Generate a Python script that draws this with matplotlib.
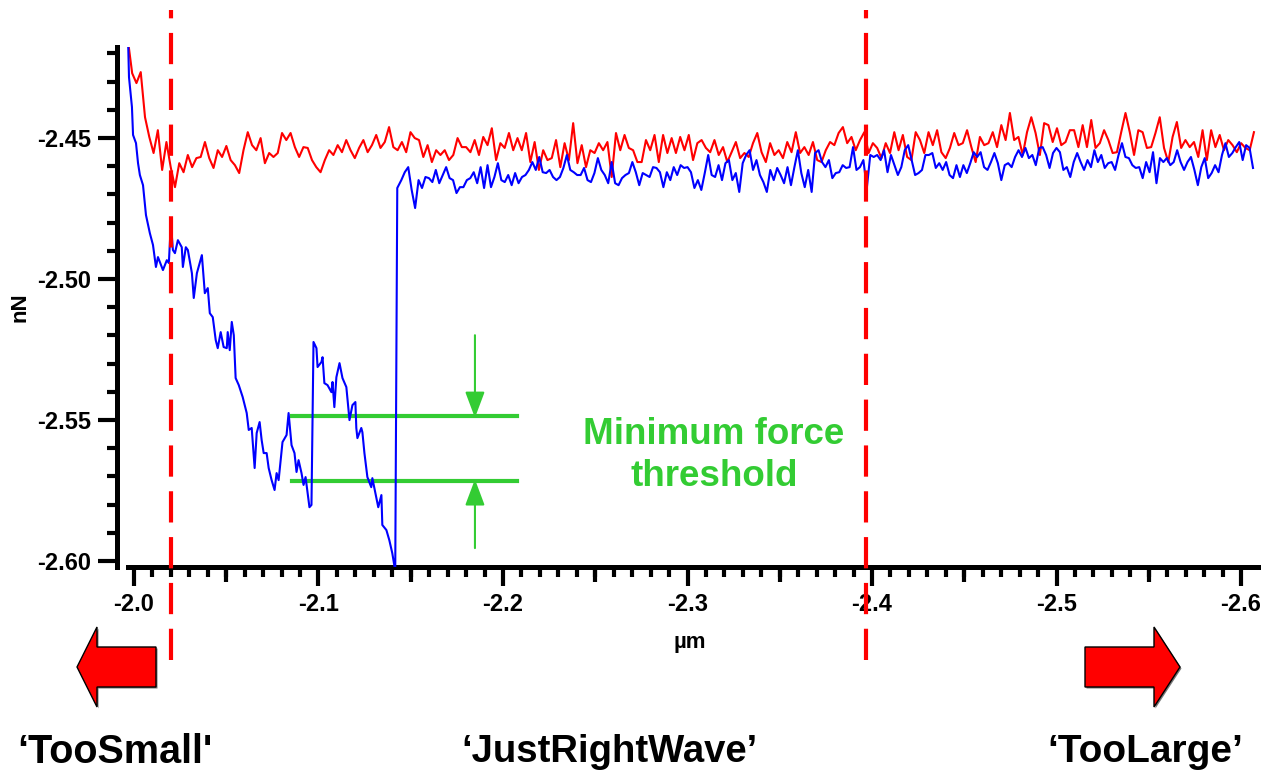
import numpy as np
import matplotlib.pyplot as plt
from matplotlib.patches import Polygon
from matplotlib.ticker import MultipleLocator, FormatStrFormatter

plt.rcParams['font.family'] = ['Liberation Sans', 'DejaVu Sans']

# retract curve (blue): steep part, sampled unevenly (um, nN)
blue_drop_x = [-1.9968, -1.9973, -1.9989, -1.9995, -2.0011, -2.0022, -2.0032, -2.0049, -2.0065, -2.0086,
               -2.0103, -2.0119, -2.0130, -2.0157, -2.0178, -2.0189, -2.0200, -2.0211, -2.0222, -2.0238,
               -2.0259, -2.0265, -2.0281, -2.0292, -2.0314, -2.0324, -2.0341, -2.0368, -2.0384, -2.0400,
               -2.0411, -2.0427, -2.0443, -2.0454, -2.0470, -2.0486, -2.0503, -2.0508, -2.0519, -2.0530,
               -2.0541, -2.0551, -2.0568, -2.0589, -2.0611, -2.0622, -2.0638, -2.0654, -2.0665, -2.0681,
               -2.0692, -2.0703, -2.0719, -2.0730, -2.0746, -2.0762, -2.0773, -2.0784, -2.0795, -2.0805,
               -2.0827, -2.0838, -2.0854, -2.0870, -2.0881, -2.0892, -2.0908, -2.0919, -2.0930, -2.0951,
               -2.0962, -2.0973, -2.0989, -2.0995, -2.1016, -2.1022, -2.1032, -2.1049, -2.1070, -2.1076,
               -2.1086, -2.1097, -2.1114, -2.1130, -2.1151, -2.1168, -2.1184, -2.1200, -2.1205, -2.1211,
               -2.1232, -2.1238, -2.1249, -2.1265, -2.1286, -2.1292, -2.1314, -2.1324, -2.1341, -2.1346,
               -2.1368, -2.1384, -2.1400, -2.1416, -2.1427]
blue_drop_y = [-2.4152, -2.4284, -2.4390, -2.4489, -2.4518, -2.4589, -2.4631, -2.4667, -2.4773, -2.4837,
               -2.4879, -2.4957, -2.4922, -2.4968, -2.4933, -2.4943, -2.4801, -2.4897, -2.4908, -2.4862,
               -2.4887, -2.4957, -2.4887, -2.4897, -2.4979, -2.5067, -2.4979, -2.4915, -2.5050, -2.5032,
               -2.5121, -2.5135, -2.5216, -2.5245, -2.5188, -2.5241, -2.5245, -2.5188, -2.5252, -2.5152,
               -2.5199, -2.5351, -2.5376, -2.5418, -2.5475, -2.5535, -2.5528, -2.5670, -2.5546, -2.5507,
               -2.5571, -2.5617, -2.5617, -2.5670, -2.5713, -2.5748, -2.5688, -2.5713, -2.5642, -2.5578,
               -2.5553, -2.5475, -2.5589, -2.5617, -2.5684, -2.5642, -2.5688, -2.5730, -2.5702, -2.5809,
               -2.5801, -2.5223, -2.5245, -2.5312, -2.5294, -2.5277, -2.5369, -2.5376, -2.5401, -2.5365,
               -2.5454, -2.5348, -2.5298, -2.5351, -2.5383, -2.5500, -2.5447, -2.5436, -2.5528, -2.5564,
               -2.5528, -2.5543, -2.5617, -2.5702, -2.5738, -2.5706, -2.5777, -2.5809, -2.5766, -2.5872,
               -2.5890, -2.5926, -2.5972, -2.6035, -2.4677]

# retract curve (blue) after release, evenly sampled
blue_flat_start, blue_flat_end = -2.1449, -2.6065
blue_flat_y = [
    -2.4649, -2.4621, -2.4603, -2.4684, -2.4748, -2.4649, -2.4677, -2.4638, -2.4642, -2.4656,
    -2.4613, -2.4660, -2.4631, -2.4603, -2.4642, -2.4649, -2.4695, -2.4674, -2.4674, -2.4649,
    -2.4642, -2.4621, -2.4660, -2.4603, -2.4677, -2.4596, -2.4674, -2.4638, -2.4589, -2.4649,
    -2.4656, -2.4631, -2.4667, -2.4624, -2.4660, -2.4638, -2.4631, -2.4613, -2.4585, -2.4613,
    -2.4567, -2.4621, -2.4624, -2.4613, -2.4638, -2.4649, -2.4638, -2.4606, -2.4560, -2.4613,
    -2.4621, -2.4631, -2.4631, -2.4606, -2.4649, -2.4656, -2.4624, -2.4571, -2.4613, -2.4631,
    -2.4660, -2.4585, -2.4660, -2.4667, -2.4642, -2.4631, -2.4624, -2.4585, -2.4621, -2.4667,
    -2.4624, -2.4631, -2.4638, -2.4603,
    -2.4606, -2.4621, -2.4674, -2.4621, -2.4649, -2.4603, -2.4631, -2.4596, -2.4606, -2.4603,
    -2.4621, -2.4677, -2.4649, -2.4684, -2.4624, -2.4560, -2.4631, -2.4638, -2.4596, -2.4649,
    -2.4589, -2.4578, -2.4649, -2.4624, -2.4691, -2.4589, -2.4560, -2.4543, -2.4613, -2.4578,
    -2.4631, -2.4656, -2.4691, -2.4613, -2.4649, -2.4606, -2.4631, -2.4660, -2.4603, -2.4667,
    -2.4603, -2.4543, -2.4624, -2.4674, -2.4613, -2.4691, -2.4553, -2.4543, -2.4585, -2.4603,
    -2.4578, -2.4642, -2.4624, -2.4621, -2.4596, -2.4606, -2.4603, -2.4532, -2.4613, -2.4603,
    -2.4578, -2.4677, -2.4560, -2.4567, -2.4560, -2.4578, -2.4543,
    -2.4621, -2.4560, -2.4596, -2.4631, -2.4603, -2.4543, -2.4525, -2.4578, -2.4631, -2.4624,
    -2.4613, -2.4560, -2.4560, -2.4553, -2.4606, -2.4589, -2.4613, -2.4585, -2.4631, -2.4642,
    -2.4596, -2.4638, -2.4596, -2.4624, -2.4589, -2.4550, -2.4567, -2.4550, -2.4603, -2.4613,
    -2.4585, -2.4553, -2.4589, -2.4649, -2.4596, -2.4589, -2.4603, -2.4567, -2.4543, -2.4567,
    -2.4535, -2.4571, -2.4560, -2.4596, -2.4535, -2.4532, -2.4560, -2.4606, -2.4553, -2.4535,
    -2.4550, -2.4613, -2.4603, -2.4638, -2.4585, -2.4553, -2.4585, -2.4613, -2.4578, -2.4603,
    -2.4543, -2.4585, -2.4560, -2.4606, -2.4589, -2.4585, -2.4613, -2.4560, -2.4518, -2.4567,
    -2.4571, -2.4596, -2.4606, -2.4603, -2.4642, -2.4585, -2.4621, -2.4550, -2.4660, -2.4571,
    -2.4585, -2.4571, -2.4596, -2.4585, -2.4543, -2.4585, -2.4613, -2.4585, -2.4567, -2.4613,
    -2.4667, -2.4603, -2.4571, -2.4642, -2.4624, -2.4596, -2.4621, -2.4560, -2.4518, -2.4567,
    -2.4553, -2.4532, -2.4514, -2.4578, -2.4525, -2.4535, -2.4606]

# approach curve (red), evenly sampled
red_start, red_end = -1.9967, -2.6070
red_y = [
    -2.4152, -2.4270, -2.4305, -2.4266, -2.4426, -2.4496, -2.4553, -2.4472, -2.4613, -2.4514,
    -2.4603, -2.4674, -2.4589, -2.4621, -2.4560, -2.4603, -2.4571, -2.4567, -2.4514, -2.4571,
    -2.4606, -2.4543, -2.4567, -2.4528, -2.4578, -2.4596, -2.4624, -2.4543, -2.4479, -2.4525,
    -2.4543, -2.4500, -2.4589, -2.4553, -2.4567, -2.4553, -2.4482, -2.4507, -2.4482, -2.4532,
    -2.4567, -2.4532, -2.4535, -2.4578, -2.4603,
    -2.4621, -2.4578, -2.4543, -2.4560, -2.4525, -2.4550, -2.4507, -2.4543, -2.4571, -2.4535,
    -2.4507, -2.4550, -2.4525, -2.4489, -2.4535, -2.4514,
    -2.4461, -2.4532, -2.4543, -2.4514, -2.4550, -2.4479, -2.4500, -2.4507, -2.4567, -2.4525,
    -2.4585, -2.4543, -2.4560, -2.4543, -2.4578, -2.4560, -2.4500, -2.4532, -2.4532, -2.4550,
    -2.4507, -2.4560, -2.4496, -2.4525, -2.4465, -2.4578, -2.4518, -2.4535, -2.4482, -2.4543,
    -2.4500, -2.4543, -2.4482, -2.4585, -2.4514, -2.4613, -2.4543, -2.4578, -2.4571, -2.4507,
    -2.4603, -2.4518, -2.4578, -2.4447, -2.4589, -2.4525, -2.4603, -2.4543, -2.4553, -2.4518,
    -2.4543, -2.4514, -2.4638, -2.4482, -2.4543, -2.4489, -2.4535, -2.4543, -2.4585,
    -2.4585, -2.4507, -2.4543, -2.4489, -2.4585, -2.4489, -2.4553, -2.4500, -2.4553, -2.4496,
    -2.4543, -2.4489, -2.4578, -2.4518, -2.4507, -2.4535, -2.4550, -2.4507, -2.4560, -2.4532,
    -2.4585, -2.4550, -2.4514, -2.4571, -2.4553, -2.4567, -2.4518, -2.4482, -2.4550, -2.4585,
    -2.4518, -2.4560, -2.4543, -2.4571, -2.4514, -2.4550, -2.4479, -2.4553, -2.4532, -2.4560,
    -2.4514, -2.4578, -2.4585, -2.4543, -2.4514, -2.4525, -2.4482, -2.4461, -2.4518, -2.4496,
    -2.4543, -2.4507, -2.4479, -2.4553, -2.4518, -2.4535, -2.4571,
    -2.4518, -2.4553, -2.4479, -2.4543, -2.4489, -2.4567, -2.4578, -2.4479, -2.4507, -2.4553,
    -2.4479, -2.4525, -2.4472, -2.4550, -2.4571, -2.4535, -2.4482, -2.4525, -2.4518, -2.4472,
    -2.4532, -2.4585, -2.4496, -2.4525, -2.4518, -2.4479, -2.4532, -2.4454, -2.4507, -2.4411,
    -2.4507, -2.4496, -2.4560, -2.4479, -2.4426, -2.4482, -2.4560, -2.4447, -2.4454, -2.4514,
    -2.4465, -2.4525, -2.4514, -2.4472, -2.4472, -2.4532, -2.4454, -2.4532, -2.4436, -2.4535,
    -2.4518, -2.4472, -2.4507, -2.4553,
    -2.4550, -2.4479, -2.4411, -2.4479, -2.4560, -2.4472, -2.4479, -2.4535, -2.4532, -2.4482,
    -2.4426, -2.4535, -2.4585, -2.4496, -2.4443, -2.4535, -2.4507, -2.4532, -2.4514, -2.4567,
    -2.4472, -2.4578, -2.4472, -2.4532, -2.4489, -2.4543, -2.4507, -2.4525, -2.4550, -2.4518,
    -2.4535, -2.4543, -2.4479]

# cut positions and force threshold
cut_small, cut_large = -2.020, -2.3967
thr_upper, thr_lower = -2.5486, -2.5716
thr_left, thr_right = -2.0856, -2.2076
thr_arrow_x = -2.1848
thr_arrow_top, thr_arrow_bottom = -2.5199, -2.5954

xticks = [-2.0, -2.1, -2.2, -2.3, -2.4, -2.5, -2.6]
xticks_mid = [-2.05, -2.15, -2.25, -2.35, -2.45, -2.55]
yticks = [-2.45, -2.50, -2.55, -2.60]

green = '#33cc33'
W, H = 1265, 773

blue_x = np.concatenate([blue_drop_x, np.linspace(blue_flat_start, blue_flat_end, len(blue_flat_y))])
blue_y = np.concatenate([blue_drop_y, blue_flat_y])
red_x = np.linspace(red_start, red_end, len(red_y))

fig = plt.figure(figsize=(W / 100, H / 100), dpi=100)
ax = fig.add_axes([117 / W, (H - 567) / H, 1141 / W, 520 / H])

# threshold lines and arrows
ax.plot([thr_left, thr_right], [thr_upper, thr_upper], color=green, lw=3, zorder=1)
ax.plot([thr_left, thr_right], [thr_lower, thr_lower], color=green, lw=3, zorder=1)
arrow_style = dict(arrowstyle='-|>,head_length=0.8,head_width=0.3', color=green, lw=1.5,
                   mutation_scale=20, shrinkA=0, shrinkB=0)
ax.annotate('', xy=(thr_arrow_x, thr_upper - 0.0006), xytext=(thr_arrow_x, thr_arrow_top),
            arrowprops=arrow_style, zorder=1)
ax.annotate('', xy=(thr_arrow_x, thr_lower + 0.0006), xytext=(thr_arrow_x, thr_arrow_bottom),
            arrowprops=arrow_style, zorder=1)
ax.text(-2.3144, -2.5626, 'Minimum force\nthreshold', color=green, fontsize=26.5, fontweight='bold',
        ha='center', va='center', linespacing=1.25)

ax.plot(red_x, red_y, color='#ff0000', lw=1.5, zorder=2)
ax.plot(blue_x, blue_y, color='#0000ff', lw=1.5, zorder=3)

for xc in (cut_small, cut_large):
    ax.axvline(xc, ymin=-0.179, ymax=1.071, color='#ff0000', lw=3, dashes=(7.5, 3.5),
               clip_on=False, zorder=4)

ax.set_xlim(-1.9908, -2.6092)
ax.set_ylim(-2.6021, -2.4177)

for s in ('top', 'right'):
    ax.spines[s].set_visible(False)
for s in ('left', 'bottom'):
    ax.spines[s].set_linewidth(3.6)
ax.spines['bottom'].set_bounds(-1.9968, -2.6092)

ax.set_xticks(xticks)
ax.set_yticks(yticks)
ax.xaxis.set_minor_locator(MultipleLocator(0.01))
ax.yaxis.set_minor_locator(MultipleLocator(0.01))
ax.xaxis.set_major_formatter(FormatStrFormatter('%.1f'))
ax.yaxis.set_major_formatter(FormatStrFormatter('%.2f'))
ax.tick_params(which='major', direction='out', length=13.5, width=3, labelsize=17, pad=5)
ax.tick_params(which='minor', direction='out', length=7.5, width=3)
for lab in ax.get_xticklabels() + ax.get_yticklabels():
    lab.set_fontweight('bold')

sec = ax.secondary_xaxis('bottom')
sec.set_xticks(xticks_mid)
sec.tick_params(axis='x', direction='out', length=11, width=3, labelbottom=False)
sec.spines['bottom'].set_visible(False)

ax.set_ylabel('nN', fontsize=16, fontweight='bold')
ax.yaxis.set_label_coords(-0.076, 0.5)
ax.set_xlabel('µm', fontsize=16, fontweight='bold', va='center')
ax.xaxis.set_label_coords(0.502, -0.146)

# big direction arrows under the axis
left_arrow = [(77, 667), (97, 627), (97, 647), (156, 647), (156, 687), (97, 687), (97, 707)]
right_arrow = [(1085, 647), (1154, 647), (1154, 627), (1180, 667), (1154, 707), (1154, 687), (1085, 687)]
for pts in (left_arrow, right_arrow):
    shadow = [((x + 1.5) / W, 1 - (y + 1.5) / H) for x, y in pts]
    fig.patches.append(Polygon(shadow, closed=True, transform=fig.transFigure,
                               facecolor='#777777', edgecolor='none'))
    poly = [(x / W, 1 - y / H) for x, y in pts]
    fig.patches.append(Polygon(poly, closed=True, transform=fig.transFigure,
                               facecolor='#ff0000', edgecolor='black', lw=1))

fig.text(115 / W, 1 - 752 / H, '\u2018TooSmall\'', fontsize=28.5, fontweight='bold', ha='center', va='center')
fig.text(610 / W, 1 - 752 / H, '\u2018JustRightWave\u2019', fontsize=27.5, fontweight='bold', ha='center', va='center')
fig.text(1145 / W, 1 - 752 / H, '\u2018TooLarge\u2019', fontsize=28, fontweight='bold', ha='center', va='center')

fig.savefig('out.png', dpi=100)
